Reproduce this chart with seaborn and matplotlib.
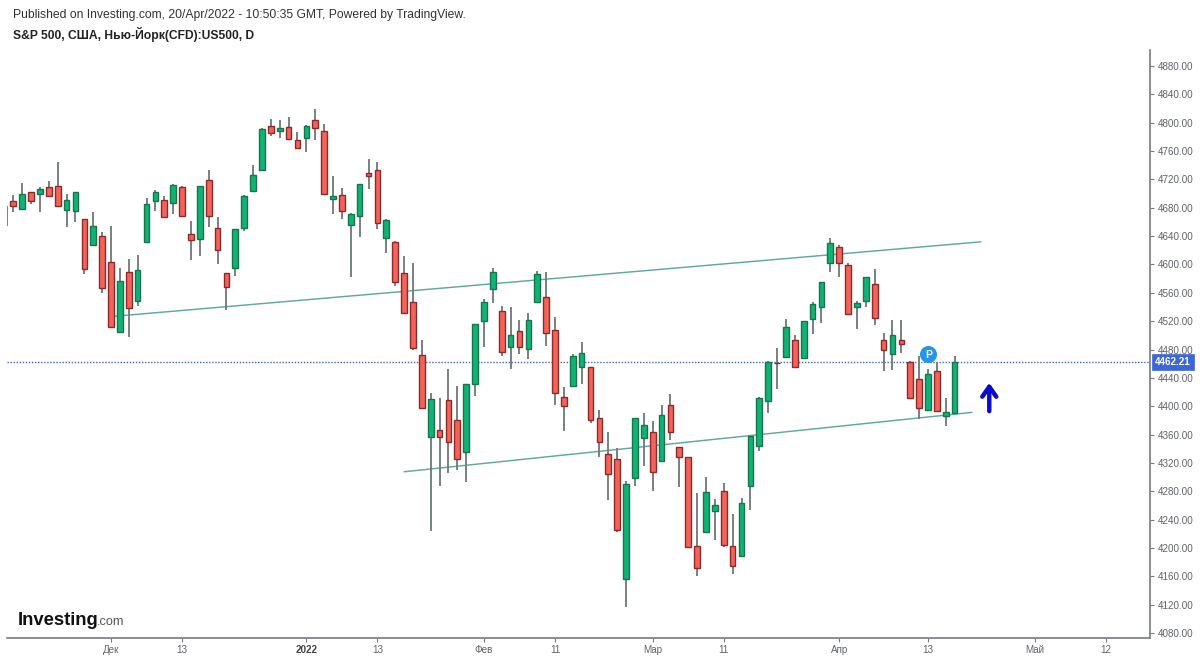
import numpy as np
import pandas as pd
import matplotlib
matplotlib.use("Agg")
import matplotlib.pyplot as plt
import seaborn as sns

opens = [4668,4689,4679,4702,4700,4709,4711,4677,4675,4664,4628,4640,4603,4505,4589,4548,
         4632,4690,4691,4687,4710,4643,4636,4719,4652,4588,4595,4651,4704,4733,4795,4789,
         4794,4775,4778,4804,4788,4693,4698,4656,4669,4729,4733,4637,4632,4588,4547,4472,
         4356,4367,4409,4381,4336,4431,4520,4565,4535,4483,4506,4481,4547,4554,4507,4413,
         4428,4456,4456,4384,4333,4325,4156,4298,4355,4363,4323,4402,4342,4328,4203,4223,
         4252,4280,4203,4189,4288,4344,4408,4461.5,4469,4493,4468,4523,4540,4602,4624,4599,
         4540,4548,4572,4494,4474,4494,4462,4438,4394,4450,4386,4391]
highs = [4683,4698,4715,4702,4709,4718,4744,4699,4703,4664,4674,4646,4654,4595,4608,4613,
         4694,4705,4696,4714,4711,4661,4711,4733,4667,4588,4650,4698,4741,4792,4806,4804,
         4808,4787,4797,4819,4798,4725,4708,4673,4714,4749,4744,4664,4633,4612,4602,4494,
         4418,4412,4453,4429,4432,4516,4551,4595,4542,4540,4522,4532,4591,4589,4526,4427,
         4473,4490,4456,4395,4363,4341,4295,4384,4390,4379,4402,4417,4343,4328,4278,4300,
         4269,4291,4248,4270,4358,4413,4464,4482,4523,4501,4520,4547,4576,4638,4627,4602,
         4549,4583,4593,4504,4522,4521,4464,4471,4453,4462,4411,4471]
lows = [4654,4674,4679,4685,4674,4695,4682,4653,4660,4586,4626,4560,4511,4505,4497,4542,
        4632,4675,4667,4671,4668,4607,4612,4653,4601,4536,4584,4647,4704,4733,4782,4779,
        4777,4765,4759,4775,4700,4671,4664,4583,4639,4707,4650,4616,4569,4532,4479,4397,
        4224,4287,4306,4310,4293,4414,4484,4545,4471,4452,4473,4467,4547,4485,4402,4365,
        4428,4431,4376,4329,4268,4223,4117,4288,4316,4280,4323,4352,4286,4202,4160,4223,
        4211,4202,4163,4189,4253,4337,4391,4425,4469,4456,4467,4502,4518,4590,4583,4530,
        4509,4540,4515,4450,4451,4475,4411,4382,4394,4392,4372,4391]
closes = [4668,4682,4700,4689,4706,4697,4682,4691,4702,4594,4655,4567,4512,4577,4538,4592,
          4686,4702,4667,4712,4669,4634,4711,4668,4620,4568,4650,4697,4726,4791,4786,4793,
          4777,4765,4796,4792,4700,4697,4676,4671,4713,4725,4659,4663,4576,4532,4482,4397,
          4410,4356,4350,4326,4432,4516,4547,4589,4477,4500,4484,4522,4587,4504,4419,4401,
          4471,4475,4381,4349,4305,4225,4290,4384,4373,4307,4387,4363,4329,4202,4171,4279,
          4260,4204,4174,4263,4358,4412,4463,4460.5,4512,4456,4520,4544,4576,4631,4602,4530,
          4546,4583,4525,4480,4500,4488,4412,4398,4446,4393,4392,4462]

tick_positions = [12, 20, 34, 42, 54, 62, 73, 81, 94, 104, 116, 124]
tick_labels = ["Дек", "13", "2022", "13", "Фев", "11", "Мар", "11", "Апр", "13", "Май", "12"]
price_ticks = list(range(4080, 4881, 40))
last_price = 4462.21
upper_x, upper_y = [12.45, 109.96], [4527, 4632]
lower_x, lower_y = [45.0, 108.95], [4307.5, 4391.3]

sns.set_theme(style="white")
plt.rcParams["font.family"] = ["Liberation Sans", "DejaVu Sans"]

W, H = 1200, 659
fig = plt.figure(figsize=(12, 6.59), dpi=100, facecolor="white")
ax = fig.add_axes([7 / W, 1 - 638 / H, (1150 - 7) / W, (638 - 50.5) / H])
ax.set_xlim(0.29, 129.0)
ax.set_ylim(4072.9, 4902.0)

df = pd.DataFrame({"open": opens, "high": highs, "low": lows, "close": closes})
df["pos"] = np.arange(len(df), dtype=float)
df.loc[0, "pos"] = 0.33  # partly cut-off first bar, only its wick shows
df["up"] = df["close"] >= df["open"]

trend = pd.concat([
    pd.DataFrame({"x": upper_x, "y": upper_y, "line": "upper"}),
    pd.DataFrame({"x": lower_x, "y": lower_y, "line": "lower"}),
])
sns.lineplot(data=trend, x="x", y="y", units="line", estimator=None, color="#5fa99d",
             lw=1.05, ax=ax, zorder=2, legend=False)
ax.axhline(last_price, color="#4a62b8", lw=1.0, ls=(0, (1, 1.2)), zorder=1.5)

ax.vlines(df["pos"], df["low"], df["high"], color="#737c7a", lw=1.35, zorder=3)
bodies = df.iloc[1:]
for is_up, face, edge in [(True, "#10b373", "#17744f"), (False, "#f4635a", "#8a2b2b")]:
    part = bodies[bodies["up"] == is_up]
    ax.bar(part["pos"], (part["close"] - part["open"]).abs(),
           bottom=part[["open", "close"]].min(axis=1), width=0.64,
           color=face, edgecolor=edge, linewidth=1.0, zorder=4)

ax.annotate("", xy=(110.9, 4433), xytext=(110.9, 4393),
            arrowprops=dict(arrowstyle="->,head_length=0.6,head_width=0.42",
                            color="#0b0bd0", lw=3.2, shrinkA=0, shrinkB=0), zorder=6)
ax.scatter([104.05], [4474], s=150, color="#2196ea", zorder=6, linewidths=0)
ax.text(104.05, 4474, "P", color="white", fontsize=7.5, fontweight="bold",
        ha="center", va="center_baseline", zorder=7)

for side in ("top", "left"):
    ax.spines[side].set_visible(False)
for side in ("bottom", "right"):
    ax.spines[side].set_color("#777c80")
    ax.spines[side].set_linewidth(1.2)

ax.set_xlabel("")
ax.set_ylabel("")
ax.yaxis.tick_right()
ax.set_yticks(price_ticks)
ax.set_yticklabels([f"{p}.00" for p in price_ticks])
ax.set_xticks(tick_positions)
ax.set_xticklabels(tick_labels)
ax.tick_params(axis="y", which="major", right=True, length=3, width=0.8, color="#777c80",
               labelsize=7.1, labelcolor="#5f6368", pad=2.3)
ax.tick_params(axis="x", which="major", bottom=True, length=3, width=0.8, color="#777c80",
               labelsize=7.1, labelcolor="#5f6368", pad=1.8)
for lab in ax.get_xticklabels():
    if lab.get_text() == "2022":
        lab.set_fontweight("bold")
        lab.set_color("#444444")

ax.text(1.0042, last_price, "4462.21", transform=ax.get_yaxis_transform(), color="white",
        fontsize=7.1, fontweight="bold", ha="left", va="center", zorder=8, clip_on=False,
        bbox=dict(boxstyle="square,pad=0.3", fc="#3d66d8", ec="#3d66d8", lw=0.5))

fig.text(13 / W, 1 - 15 / H, "Published on Investing.com, 20/Apr/2022 - 10:50:35 GMT, Powered by TradingView.",
         fontsize=8.75, color="#333333", ha="left", va="center")
fig.text(13 / W, 1 - 34 / H, "S&P 500, США, Нью-Йорк(CFD):US500, D",
         fontsize=8.7, color="#222222", fontweight="bold", ha="left", va="center")
fig.text(18 / W, 1 - 625 / H, "Investing", fontsize=13.3, color="#111111",
         fontweight="bold", ha="left", va="baseline")
fig.text(97 / W, 1 - 625 / H, ".com", fontsize=9.2, color="#555555", ha="left", va="baseline")

fig.savefig("out.png", dpi=100, facecolor="white")
